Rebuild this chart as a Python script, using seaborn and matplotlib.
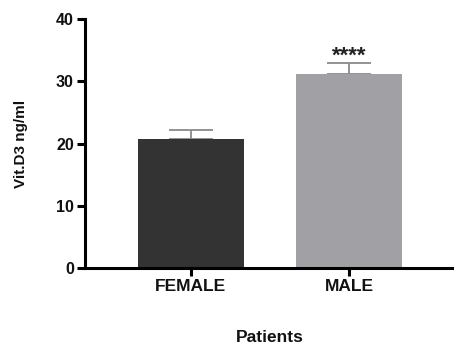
import matplotlib
matplotlib.use("Agg")
import matplotlib.pyplot as plt
import seaborn as sns
import pandas as pd
import numpy as np

categories = ["FEMALE", "MALE"]
means = [20.7, 31.2]
sem = [1.5, 1.7]
bar_colors = ["#333333", "#a1a1a5"]
y_ticks = [0, 10, 20, 30, 40]

sns.set_theme(style="ticks")
plt.rcParams['font.family'] = ['Liberation Sans', 'DejaVu Sans']

df = pd.DataFrame({"group": categories, "value": means})

fig = plt.figure(figsize=(4.54, 3.45), dpi=100)
ax = fig.add_axes([0.187, 0.2232, 0.813, 0.7217])

sns.barplot(data=df, x="group", y="value", hue="group", palette=bar_colors,
            width=0.667, legend=False, errorbar=None, ax=ax, saturation=1,
            edgecolor="none", linewidth=0)

x = np.arange(len(categories))
ax.errorbar(x, means, yerr=[np.zeros(len(sem)), sem], fmt="none",
            ecolor="#8a8a8a", elinewidth=1.3, capsize=16, capthick=1.3, zorder=1)
for b in ax.patches:
    b.set_zorder(2)

ax.text(1, 34.1, "****", ha="center", va="center",
        fontsize=16, fontweight="bold", color="#222222")

ax.set_xlim(-0.667, 1.66)
ax.set_ylim(0, 40)
ax.set_yticks(y_ticks)
ax.set_yticklabels([str(t) for t in y_ticks], fontsize=11.5, fontweight="bold", color="#111111")
ax.set_xticks(x)
ax.set_xticklabels(categories, fontsize=12.5, fontweight="bold", color="#111111")
ax.tick_params(axis="both", width=2.2, length=6, color="black", pad=2)
for s in ["left", "bottom"]:
    ax.spines[s].set_linewidth(2.2)
    ax.spines[s].set_color("black")
ax.spines["top"].set_visible(False)
ax.spines["right"].set_visible(False)

ax.set_xlabel("Patients", fontsize=12.5, fontweight="bold", labelpad=26, color="#111111")
ax.set_ylabel("Vit.D3 ng/ml", fontsize=11, fontweight="bold", labelpad=20, color="#111111")

fig.savefig("out.png", dpi=100)
